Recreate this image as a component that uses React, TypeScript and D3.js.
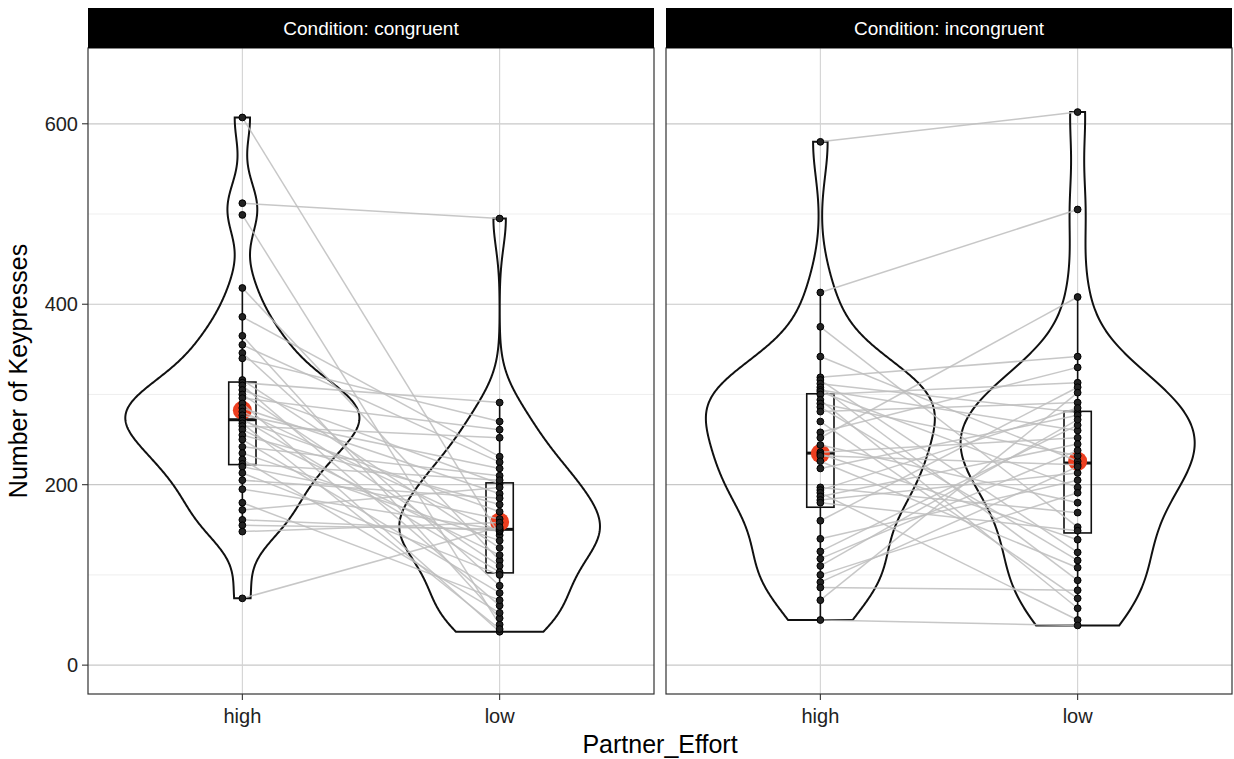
import * as d3 from "d3";
import { useEffect, useRef } from "react";

const WIDTH = 1234;
const HEIGHT = 759;

const conditions = ["congruent", "incongruent"];
const efforts = ["high", "low"];
const yTicks = [0, 200, 400, 600];
const yMinorTicks = [100, 300, 500];

// one entry per participant; high[i] and low[i] belong to the same person
const congruentHigh = [607, 512, 499, 418, 386, 346, 340, 365, 355, 316, 313, 310, 305, 300, 296, 290, 285, 281, 277, 273, 271, 268, 265, 261, 255, 250, 242, 235, 228, 223, 220, 213, 205, 195, 180, 172, 161, 155, 148, 74];
const congruentLow = [144, 495, 45, 116, 231, 88, 270, 52, 225, 130, 291, 66, 201, 110, 261, 37, 190, 148, 218, 103, 170, 40, 252, 122, 178, 80, 210, 138, 58, 205, 162, 100, 185, 150, 72, 197, 149, 151, 158, 153];
const incongruentHigh = [580, 413, 375, 342, 319, 316, 312, 308, 305, 303, 300, 294, 290, 286, 281, 270, 258, 252, 244, 236, 234, 232, 226, 218, 197, 194, 191, 187, 183, 180, 160, 140, 126, 118, 110, 100, 92, 86, 72, 50];
const incongruentLow = [613, 505, 153, 226, 342, 125, 280, 94, 260, 197, 313, 63, 232, 116, 291, 74, 330, 408, 180, 252, 139, 222, 108, 277, 169, 285, 50, 245, 213, 149, 308, 205, 266, 238, 272, 191, 220, 83, 302, 44];

const panelData: Record<string, Record<string, number[]>> = {
    congruent: { high: congruentHigh, low: congruentLow },
    incongruent: { high: incongruentHigh, low: incongruentLow },
};

// widest half-width of each violin, in x units
const violinHalf: Record<string, Record<string, number>> = {
    congruent: { high: 0.455, low: 0.39 },
    incongruent: { high: 0.445, low: 0.455 },
};

function bwNrd0(v: number[]) {
    const s = v.slice().sort(d3.ascending);
    const iqr = (d3.quantile(s, 0.75) ?? 0) - (d3.quantile(s, 0.25) ?? 0);
    const lo = Math.min(d3.deviation(s) ?? 1, iqr / 1.34);
    return 0.9 * lo * Math.pow(v.length, -0.2);
}

function density(v: number[], n = 512) {
    const bw = bwNrd0(v);
    const [min, max] = d3.extent(v) as [number, number];
    return d3.range(n).map((i) => {
        const y = min + ((max - min) * i) / (n - 1);
        const d = d3.mean(v, (x) => Math.exp(-0.5 * ((y - x) / bw) ** 2) / Math.sqrt(2 * Math.PI)) ?? 0;
        return { y, d: d / bw };
    });
}

export default function App() {
    const svgRef = useRef<SVGSVGElement | null>(null);

    useEffect(() => {
        if (!svgRef.current) return;
        const svg = d3.select(svgRef.current);
        svg.selectAll("*").remove();

        const margin = { top: 48, left: 88, bottom: 65, right: 2 };
        const gap = 12;
        const stripH = 40;
        const panelW = (WIDTH - margin.left - margin.right - gap) / 2;
        const panelBottom = HEIGHT - margin.bottom;
        const font = "'Liberation Sans', Arial, sans-serif";

        const y = d3.scaleLinear().domain([-32, 684]).range([panelBottom, margin.top]);

        svg.append("rect").attr("width", WIDTH).attr("height", HEIGHT).attr("fill", "#fff");

        conditions.forEach((cond, pi) => {
            const x0 = margin.left + pi * (panelW + gap);
            const x = d3.scalePoint<string>().domain(efforts).range([x0, x0 + panelW]).padding(0.6);
            const unit = x("low")! - x("high")!;
            const g = svg.append("g");

            // grid
            yMinorTicks.forEach((t) =>
                g.append("line").attr("x1", x0).attr("x2", x0 + panelW).attr("y1", y(t)).attr("y2", y(t)).attr("stroke", "#ebebeb").attr("stroke-width", 0.8)
            );
            yTicks.forEach((t) =>
                g.append("line").attr("x1", x0).attr("x2", x0 + panelW).attr("y1", y(t)).attr("y2", y(t)).attr("stroke", "#c8c8c8").attr("stroke-width", 1.2)
            );
            efforts.forEach((e) =>
                g.append("line").attr("x1", x(e)!).attr("x2", x(e)!).attr("y1", margin.top).attr("y2", panelBottom).attr("stroke", "#d2d2d2").attr("stroke-width", 1.1)
            );

            // violins
            efforts.forEach((e) => {
                const dens = density(panelData[cond][e]);
                const maxD = d3.max(dens, (p) => p.d) ?? 1;
                const half = violinHalf[cond][e] * unit;
                const cx = x(e)!;
                const left = dens.map((p) => [cx - (p.d / maxD) * half, y(p.y)] as [number, number]);
                const right = dens.map((p) => [cx + (p.d / maxD) * half, y(p.y)] as [number, number]).reverse();
                g.append("path")
                    .attr("d", d3.line()([...left, ...right]) + "Z")
                    .attr("fill", "none")
                    .attr("stroke", "#111")
                    .attr("stroke-width", 2);
            });

            // boxplots + mean
            const boxHalf = 0.053 * unit;
            efforts.forEach((e) => {
                const v = panelData[cond][e].slice().sort(d3.ascending);
                const q1 = d3.quantile(v, 0.25)!;
                const med = d3.quantile(v, 0.5)!;
                const q3 = d3.quantile(v, 0.75)!;
                const iqr = q3 - q1;
                const lo = d3.min(v.filter((d) => d >= q1 - 1.5 * iqr))!;
                const hi = d3.max(v.filter((d) => d <= q3 + 1.5 * iqr))!;
                const cx = x(e)!;
                g.append("line").attr("x1", cx).attr("x2", cx).attr("y1", y(hi)).attr("y2", y(q3)).attr("stroke", "#111").attr("stroke-width", 1.6);
                g.append("line").attr("x1", cx).attr("x2", cx).attr("y1", y(q1)).attr("y2", y(lo)).attr("stroke", "#111").attr("stroke-width", 1.6);
                g.append("rect")
                    .attr("x", cx - boxHalf)
                    .attr("y", y(q3))
                    .attr("width", boxHalf * 2)
                    .attr("height", y(q1) - y(q3))
                    .attr("fill", "none")
                    .attr("stroke", "#111")
                    .attr("stroke-width", 1.6);
                g.append("line").attr("x1", cx - boxHalf).attr("x2", cx + boxHalf).attr("y1", y(med)).attr("y2", y(med)).attr("stroke", "#111").attr("stroke-width", 3);
                g.append("circle").attr("cx", cx).attr("cy", y(d3.mean(v)!)).attr("r", 9.5).attr("fill", "#ec3e1f");
            });

            // paired lines
            const hi = panelData[cond].high;
            const lo = panelData[cond].low;
            hi.forEach((h, i) =>
                g.append("line")
                    .attr("x1", x("high")!)
                    .attr("y1", y(h))
                    .attr("x2", x("low")!)
                    .attr("y2", y(lo[i]))
                    .attr("stroke", "#bdbdbd")
                    .attr("stroke-opacity", 0.85)
                    .attr("stroke-width", 1.5)
            );

            // points
            efforts.forEach((e) =>
                g.selectAll(null)
                    .data(panelData[cond][e])
                    .enter()
                    .append("circle")
                    .attr("cx", x(e)!)
                    .attr("cy", (d) => y(d))
                    .attr("r", 3.4)
                    .attr("fill", "#222")
                    .attr("stroke", "#000")
                    .attr("stroke-width", 1)
            );

            // border + strip
            g.append("rect")
                .attr("x", x0)
                .attr("y", margin.top)
                .attr("width", panelW)
                .attr("height", panelBottom - margin.top)
                .attr("fill", "none")
                .attr("stroke", "#333")
                .attr("stroke-width", 1.2);
            g.append("rect").attr("x", x0).attr("y", margin.top - stripH).attr("width", panelW).attr("height", stripH).attr("fill", "#000");
            g.append("text")
                .attr("x", x0 + panelW / 2)
                .attr("y", margin.top - stripH / 2)
                .attr("dy", "0.36em")
                .attr("text-anchor", "middle")
                .attr("fill", "#fff")
                .attr("font-family", font)
                .attr("font-size", 19)
                .text(`Condition: ${cond}`);

            // x axis
            efforts.forEach((e) => {
                g.append("line").attr("x1", x(e)!).attr("x2", x(e)!).attr("y1", panelBottom).attr("y2", panelBottom + 6).attr("stroke", "#333").attr("stroke-width", 1.1);
                g.append("text")
                    .attr("x", x(e)!)
                    .attr("y", panelBottom + 29)
                    .attr("text-anchor", "middle")
                    .attr("fill", "#222")
                    .attr("font-family", font)
                    .attr("font-size", 20)
                    .text(e);
            });
        });

        // y axis
        const ya = svg.append("g");
        yTicks.forEach((t) => {
            ya.append("line").attr("x1", margin.left - 6).attr("x2", margin.left).attr("y1", y(t)).attr("y2", y(t)).attr("stroke", "#333").attr("stroke-width", 1.1);
            ya.append("text")
                .attr("x", margin.left - 10)
                .attr("y", y(t))
                .attr("dy", "0.36em")
                .attr("text-anchor", "end")
                .attr("fill", "#222")
                .attr("font-family", font)
                .attr("font-size", 20)
                .text(t);
        });
        svg.append("text")
            .attr("transform", `translate(27,${(margin.top + panelBottom) / 2}) rotate(-90)`)
            .attr("text-anchor", "middle")
            .attr("fill", "#000")
            .attr("font-family", font)
            .attr("font-size", 25)
            .text("Number of Keypresses");
        svg.append("text")
            .attr("x", margin.left + (WIDTH - margin.left - margin.right) / 2)
            .attr("y", HEIGHT - 6)
            .attr("text-anchor", "middle")
            .attr("fill", "#000")
            .attr("font-family", font)
            .attr("font-size", 25)
            .text("Partner_Effort");
    }, []);

    return <svg ref={svgRef} width={WIDTH} height={HEIGHT} style={{ position: "absolute", left: 0, top: 0, display: "block" }} />;
}
